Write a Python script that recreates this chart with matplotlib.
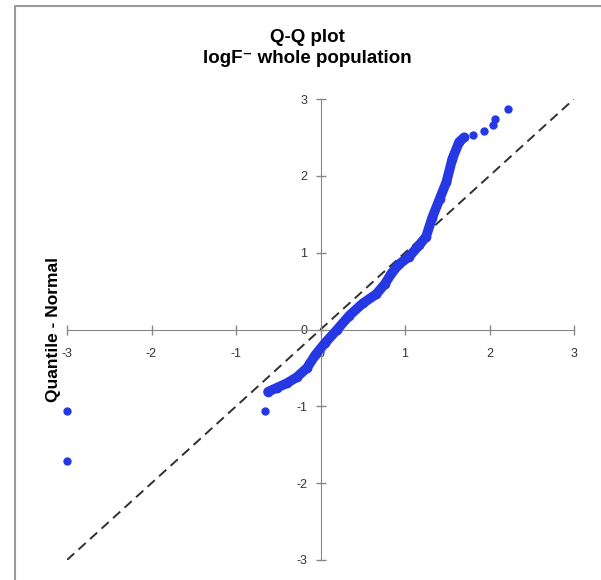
import matplotlib
matplotlib.use("Agg")
import matplotlib.pyplot as plt
from matplotlib.lines import Line2D

plt.rcParams['font.family'] = ['Liberation Sans', 'DejaVu Sans']
plt.rcParams['axes.unicode_minus'] = False

# Q-Q plot data
# dense run of observations (drawn as a thick band of points)
curve_x = [-0.62, -0.52, -0.40, -0.28, -0.16, -0.06, 0.05, 0.19, 0.34, 0.50, 0.66, 0.76,
           0.84, 0.93, 1.05, 1.17, 1.25, 1.32, 1.41, 1.49, 1.56, 1.64, 1.70]
curve_y = [-0.81, -0.76, -0.70, -0.62, -0.50, -0.33, -0.18, -0.01, 0.18, 0.34, 0.46, 0.59,
           0.73, 0.85, 0.95, 1.10, 1.21, 1.45, 1.70, 1.92, 2.22, 2.44, 2.50]
# isolated points
tail_x = [1.80, 1.94, 2.04, 2.06, 2.22]
tail_y = [2.53, 2.58, 2.66, 2.74, 2.87]
outlier_x = [-3.0, -3.0, -0.66]
outlier_y = [-1.06, -1.71, -1.06]

ref_line = [-3, 3]
ticks = [-3, -2, -1, 0, 1, 2, 3]

title = "Q-Q plot\nlogF\u207b whole population"
ylabel = "Quantile - Normal"

blue = '#2638e4'
grey = '#878787'

fig = plt.figure(figsize=(6.01, 5.80), dpi=100)
ax = fig.add_axes([67 / 601, 20 / 580, 507 / 601, 461 / 580])

# reference line y = x
ax.plot(ref_line, ref_line, color='#303030', lw=1.4, ls=(0, (5, 3)), zorder=2)

# the dense band of points
ax.plot(curve_x, curve_y, color=blue, lw=7, solid_capstyle='round',
        solid_joinstyle='round', zorder=3)
ax.plot(curve_x, curve_y, 'o', color=blue, ms=6, zorder=3)
ax.plot(tail_x, tail_y, 'o', color=blue, ms=5, zorder=3)
ax.plot(outlier_x, outlier_y, 'o', color=blue, ms=5, zorder=3, clip_on=False)

ax.set_xlim(-3, 3)
ax.set_ylim(-3, 3)
ax.set_xticks(ticks)
ax.set_yticks(ticks)

# axes crossing at the origin, Excel style
for side in ['top', 'right']:
    ax.spines[side].set_visible(False)
ax.spines['left'].set_position(('data', 0))
ax.spines['bottom'].set_position(('data', 0))
ax.spines['left'].set_color(grey)
ax.spines['bottom'].set_color(grey)
ax.tick_params(direction='inout', length=7, width=1, color=grey,
               labelsize=9, labelcolor='#333333')
ax.tick_params(axis='x', pad=10)
ax.tick_params(axis='y', pad=6)
ax.patch.set_alpha(0)

fig.text(0.512, 1 - 48 / 580, title, ha='center', va='center',
         fontsize=13.5, fontweight='bold', linespacing=1.25)
fig.text(54 / 601, 1 - 330 / 580, ylabel, ha='center', va='center',
         rotation=90, fontsize=12.5, fontweight='bold')

# chart area border (left and top edges visible)
fig.add_artist(Line2D([15 / 601, 15 / 601, 1.0], [0.0, 1 - 6 / 580, 1 - 6 / 580],
                      transform=fig.transFigure, color='#9a9a9a', lw=1.5))

fig.savefig('out.png', dpi=100)
